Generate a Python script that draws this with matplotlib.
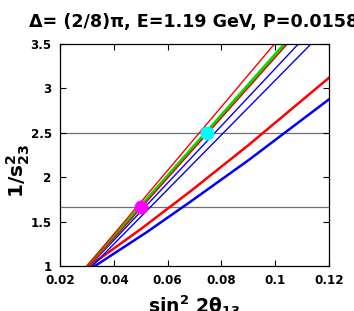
import matplotlib
matplotlib.use("Agg")
import matplotlib.pyplot as plt

plt.rcParams['font.family'] = ['DejaVu Sans']
plt.rcParams['font.weight'] = 'bold'
plt.rcParams['mathtext.fontset'] = 'custom'
plt.rcParams['mathtext.rm'] = 'DejaVu Sans:bold'
plt.rcParams['mathtext.it'] = 'DejaVu Sans:bold'
plt.rcParams['mathtext.bf'] = 'DejaVu Sans:bold'

# curves (sin^2 2theta13, 1/s23^2)
red_thick_x = [0.031, 0.050, 0.0683, 0.090, 0.12]
red_thick_y = [1.0, 1.415, 1.837, 2.36, 3.12]
blue_thick_x = [0.033, 0.0522, 0.0683, 0.090, 0.12]
blue_thick_y = [1.0, 1.38, 1.72, 2.19, 2.877]
red_thin1_x = [0.0300, 0.0997]
red_thin2_x = [0.0308, 0.1045]
green_x = [0.0304, 0.1036]
blue_thin1_x = [0.0310, 0.1086]
blue_thin2_x = [0.0320, 0.1133]
thin_y = [1.0, 3.5]
hlines = [5 / 3, 2.5]
pt_magenta = (0.050, 5 / 3)
pt_cyan = (0.0745, 2.5)

fig = plt.figure(figsize=(3.54, 3.11), dpi=100)
ax = fig.add_axes([60 / 354, 45 / 311, 269 / 354, 222 / 311])

for h in hlines:
    ax.axhline(h, color='#707070', lw=0.9, zorder=1)

ax.plot(blue_thick_x, blue_thick_y, color='blue', lw=1.8)
ax.plot(red_thick_x, red_thick_y, color='red', lw=1.8)
ax.plot(blue_thin2_x, thin_y, color='blue', lw=1.0)
ax.plot(blue_thin1_x, thin_y, color='blue', lw=1.0)
ax.plot(green_x, thin_y, color='#00dd00', lw=2.6)
ax.plot(red_thin2_x, thin_y, color='red', lw=1.0)
ax.plot(red_thin1_x, thin_y, color='red', lw=1.0)

ax.plot(*pt_magenta, 'o', color='magenta', ms=9, zorder=5)
ax.plot(*pt_cyan, 'o', color='cyan', ms=9, zorder=5)

ax.set_xlim(0.02, 0.12)
ax.set_ylim(1, 3.5)
ax.set_xticks([0.02, 0.04, 0.06, 0.08, 0.1, 0.12])
ax.set_xticklabels(['0.02', '0.04', '0.06', '0.08', '0.1', '0.12'])
ax.set_yticks([1, 1.5, 2, 2.5, 3, 3.5])
ax.set_yticklabels(['1', '1.5', '2', '2.5', '3', '3.5'])
ax.tick_params(direction='in', top=True, right=True, length=4, width=0.8,
               labelsize=8.6, pad=6)
for s in ax.spines.values():
    s.set_linewidth(0.9)

ax.set_xlabel(r'sin$^{2}$ 2$\theta_{13}$', fontsize=13.5, fontweight='bold',
              va='baseline')
ax.xaxis.set_label_coords(0.5, -0.21)
ax.set_ylabel(r'1/s$^{2}_{23}$', fontsize=14.5, fontweight='bold',
              va='center')
ax.yaxis.set_label_coords(-0.155, 0.43)

fig.text(29 / 354, 1 - 27 / 311, 'Δ= (2/8)π, E=1.19 GeV, P=0.0158',
         fontsize=12.6, fontweight='bold', va='baseline', ha='left')

fig.savefig('out.png', dpi=100)
